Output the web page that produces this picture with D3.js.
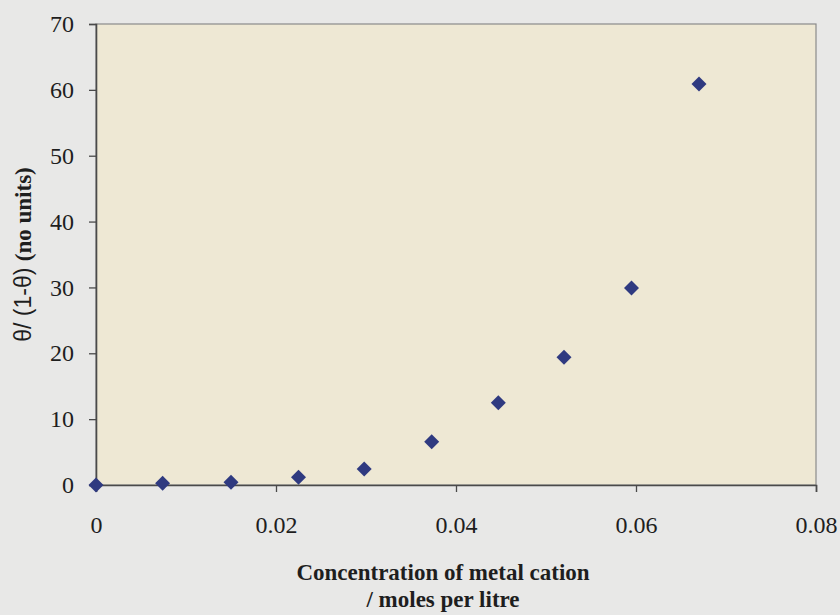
<!DOCTYPE html>
<html>
<head>
<meta charset="utf-8">
<script src="https://cdn.jsdelivr.net/npm/d3@7"></script>
<style>
  html, body { margin: 0; padding: 0; background: #e8e8e7; }
  svg { display: block; }
</style>
</head>
<body>
<svg id="chart" width="840" height="615"></svg>
<script>
// Metal cation concentration (mol/L) and theta/(1-theta)
const concentration = [0, 0.0074, 0.0150, 0.0225, 0.0298, 0.0373, 0.0447, 0.0520, 0.0595, 0.0670];
const thetaRatio    = [0.0, 0.26, 0.41, 1.17, 2.43, 6.58, 12.5, 19.4, 29.9, 60.9];
const xTicks = [0, 0.02, 0.04, 0.06, 0.08];
const xTickLabels = ["0", "0.02", "0.04", "0.06", "0.08"];
const yTicks = [0, 10, 20, 30, 40, 50, 60, 70];

const svg = d3.select("#chart");
const margin = { left: 96, top: 24, right: 24, bottom: 130 };
const W = 840, H = 615;
const pw = W - margin.left - margin.right;   // 720
const ph = H - margin.top - margin.bottom;   // 461

const x = d3.scaleLinear().domain([0, 0.08]).range([0, pw]);
const y = d3.scaleLinear().domain([0, 70]).range([ph, 0]);

const g = svg.append("g").attr("transform", `translate(${margin.left},${margin.top})`);

// plot area
g.append("rect")
  .attr("width", pw).attr("height", ph)
  .attr("fill", "#eee8d4")
  .attr("stroke", "#8a8a8a").attr("stroke-width", 1.2);

const serif = "'Liberation Serif', 'Times New Roman', serif";

// x axis
const xAxis = g.append("g")
  .attr("transform", `translate(0,${ph})`)
  .call(d3.axisBottom(x).tickValues(xTicks)
    .tickFormat((d, i) => xTickLabels[i]).tickSize(7).tickPadding(24));
xAxis.select(".domain").attr("stroke", "#4a4a4a").attr("stroke-width", 1.6);
xAxis.selectAll(".tick line").attr("stroke", "#4a4a4a").attr("stroke-width", 1.3);
xAxis.selectAll("text").attr("font-family", serif).attr("font-size", 24).attr("fill", "#1e1e1e");

// y axis
const yAxis = g.append("g")
  .call(d3.axisLeft(y).tickValues(yTicks).tickSize(7).tickPadding(15));
yAxis.select(".domain").attr("stroke", "#4a4a4a").attr("stroke-width", 1.6);
yAxis.selectAll(".tick line").attr("stroke", "#4a4a4a").attr("stroke-width", 1.3);
yAxis.selectAll("text").attr("font-family", serif).attr("font-size", 24).attr("fill", "#1e1e1e");

// data points (diamonds)
const pts = concentration.map((c, i) => ({ c, v: thetaRatio[i] }));
g.selectAll("path.pt")
  .data(pts)
  .enter().append("path")
  .attr("class", "pt")
  .attr("d", d3.symbol().type(d3.symbolSquare).size(112))
  .attr("transform", d => `translate(${x(d.c)},${y(d.v)}) rotate(45)`)
  .attr("fill", "#2f3a80");

// x axis title
const xt = svg.append("text")
  .attr("x", 443).attr("y", 580)
  .attr("text-anchor", "middle")
  .attr("font-family", serif).attr("font-weight", "bold")
  .attr("font-size", 23).attr("fill", "#1e1e1e");
xt.append("tspan").attr("x", 443).text("Concentration of metal cation");
xt.append("tspan").attr("x", 443).attr("dy", 27).text("/ moles per litre");

// y axis title
const yt = svg.append("text")
  .attr("transform", `translate(31,${margin.top + ph / 2}) rotate(-90)`)
  .attr("text-anchor", "middle")
  .attr("font-size", 23).attr("fill", "#1e1e1e");
yt.append("tspan").attr("font-family", "'Liberation Sans', Arial, sans-serif").text("θ/ (1-θ) ");
yt.append("tspan").attr("font-family", serif).attr("font-weight", "bold").text("(no units)");
</script>
</body>
</html>
